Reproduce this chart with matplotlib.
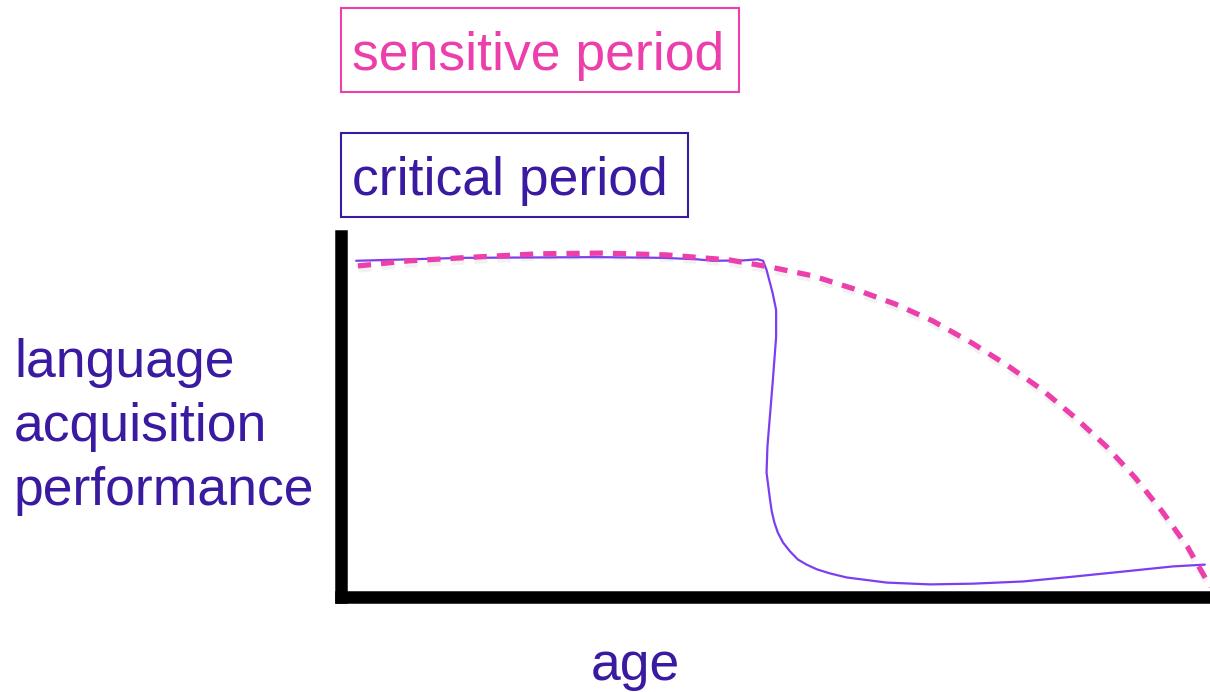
import matplotlib
matplotlib.use("Agg")
import matplotlib.pyplot as plt
import matplotlib.patheffects as pe
from matplotlib.patches import Rectangle

# age (0-100) vs performance (0-100)
sens_age = [2.0, 7.9, 15.4, 22.7, 30.1, 37.5, 44.8, 49.4, 54.3, 59.1, 63.8,
            68.1, 72.6, 76.6, 80.7, 84.5, 88.1, 91.4, 94.5, 97.4, 99.7, 100.5]
sens_perf = [90.2, 91.6, 92.6, 93.5, 93.7, 93.2, 91.8, 89.9, 87.5, 83.9, 79.8,
             75.2, 69.2, 63.2, 56.4, 48.8, 40.9, 32.4, 23.2, 13.6, 4.1, 1.5]

crit_age = [1.8, 14.0, 29.5, 37.1, 41.0, 42.8, 46.3, 48.0, 48.6, 49.0, 49.7,
            50.1, 50.1, 49.7, 49.1, 49.0, 49.4, 49.6, 49.9, 50.3, 50.9, 51.7,
            52.6, 53.6, 54.8, 56.3, 58.2, 62.8, 67.8, 72.7, 78.5, 84.2, 90.0,
            95.7, 99.4]
crit_perf = [91.6, 92.4, 92.6, 92.4, 92.0, 91.6, 91.7, 92.0, 91.6, 89.1, 82.8,
             78.2, 70.8, 58.3, 40.9, 33.8, 26.4, 23.2, 20.2, 17.4, 14.7, 12.3,
             10.1, 8.7, 7.4, 6.3, 5.2, 3.8, 3.3, 3.5, 4.1, 5.4, 6.8,
             8.2, 8.7]

labels = ["sensitive period", "critical period"]
ylabel_lines = ["language", "acquisition", "performance"]

PINK = "#ec3fac"
LINE_PURPLE = "#7b3ff0"
INDIGO = "#3a1aa0"
FONT = "Liberation Sans"
FS = 38.5

W, H = 1210, 692
fig = plt.figure(figsize=(W / 100, H / 100), dpi=100)


def fx(px):
    return px / W


def fy(py):
    return 1 - py / H


ax = fig.add_axes([fx(340.5), fy(596.5), (W - 340.5) / W, (596.5 - 236) / H])
ax.set_xlim(0, 100)
ax.set_ylim(0, 100 * (596.5 - 236) / (596.5 - 230))

ax.plot(crit_age, crit_perf, color=LINE_PURPLE, lw=1.6, clip_on=False,
        solid_capstyle="round", solid_joinstyle="round")
ax.plot(sens_age, sens_perf, color=PINK, lw=3.8, clip_on=False,
        dashes=(2.5, 1.9), dash_capstyle="butt",
        path_effects=[pe.SimpleLineShadow(offset=(0.5, -3), shadow_color="gray", alpha=0.1),
                      pe.Normal()])

ax.set_xticks([])
ax.set_yticks([])
for side in ["top", "right"]:
    ax.spines[side].set_visible(False)
for side in ["left", "bottom"]:
    ax.spines[side].set_linewidth(9)
    ax.spines[side].set_color("black")
    ax.spines[side].set_capstyle("projecting")

# boxed labels
fig.patches.append(Rectangle((fx(341), fy(92)), (739 - 341) / W, (92 - 8) / H,
                             transform=fig.transFigure, fill=False, ec=PINK, lw=1.5))
fig.patches.append(Rectangle((fx(341), fy(217)), (688 - 341) / W, (217 - 133) / H,
                             transform=fig.transFigure, fill=False, ec=INDIGO, lw=1.5))
fig.text(fx(352), fy(70), labels[0], color=PINK, fontsize=FS, family=FONT,
         ha="left", va="baseline")
fig.text(fx(352), fy(195), labels[1], color=INDIGO, fontsize=FS, family=FONT,
         ha="left", va="baseline")

for line, base in zip(ylabel_lines, [377, 441, 505]):
    fig.text(fx(14), fy(base), line, color=INDIGO, fontsize=FS, family=FONT,
             ha="left", va="baseline")
fig.text(fx(635), fy(680), "age", color=INDIGO, fontsize=FS, family=FONT,
         ha="center", va="baseline")

fig.savefig("out.png", dpi=100)
